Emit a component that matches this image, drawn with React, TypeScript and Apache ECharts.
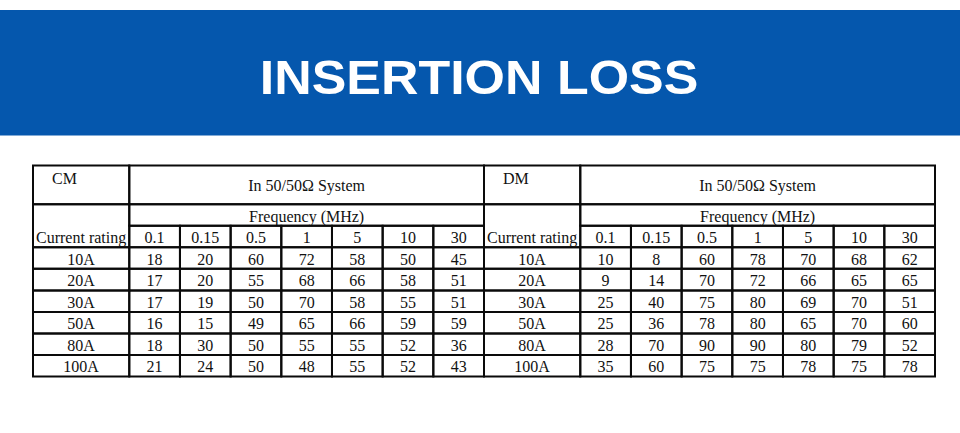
import React, { useEffect, useRef } from "react";
import * as echarts from "echarts";

const title = "INSERTION LOSS";
const systemLabel = "In 50/50Ω System";
const frequencyLabel = "Frequency (MHz)";
const ratingLabel = "Current rating";
const frequencies = ["0.1", "0.15", "0.5", "1", "5", "10", "30"];
const ratings = ["10A", "20A", "30A", "50A", "80A", "100A"];
const cmValues = [
  [18, 20, 60, 72, 58, 50, 45],
  [17, 20, 55, 68, 66, 58, 51],
  [17, 19, 50, 70, 58, 55, 51],
  [16, 15, 49, 65, 66, 59, 59],
  [18, 30, 50, 55, 55, 52, 36],
  [21, 24, 50, 48, 55, 52, 43],
];
const dmValues = [
  [10, 8, 60, 78, 70, 68, 62],
  [9, 14, 70, 72, 66, 65, 65],
  [25, 40, 75, 80, 69, 70, 51],
  [25, 36, 78, 80, 65, 70, 60],
  [28, 70, 90, 90, 80, 79, 52],
  [35, 60, 75, 75, 78, 75, 78],
];

// table layout in axis units (first column is wider than value columns)
const LABEL_W = 1.9;
const TITLE_H = 1.8;
const X_MAX = LABEL_W + frequencies.length;
const Y_MAX = TITLE_H + 2 + ratings.length;

type Cell = {
  x0: number; x1: number; y0: number; y1: number;
  text: string; kind?: "tag"; ty0?: number; ty1?: number;
};

function buildCells(tag: string, values: number[][]): Cell[] {
  const cells: Cell[] = [];
  cells.push({ x0: 0, x1: LABEL_W, y0: 0, y1: TITLE_H, text: tag, kind: "tag" });
  cells.push({ x0: LABEL_W, x1: X_MAX, y0: 0, y1: TITLE_H, text: systemLabel });
  cells.push({ x0: 0, x1: LABEL_W, y0: TITLE_H, y1: TITLE_H + 2, text: ratingLabel, ty0: TITLE_H + 1, ty1: TITLE_H + 2 });
  cells.push({ x0: LABEL_W, x1: X_MAX, y0: TITLE_H, y1: TITLE_H + 1, text: frequencyLabel });
  frequencies.forEach((f, i) => {
    cells.push({ x0: LABEL_W + i, x1: LABEL_W + i + 1, y0: TITLE_H + 1, y1: TITLE_H + 2, text: f });
  });
  ratings.forEach((r, ri) => {
    const y0 = TITLE_H + 2 + ri;
    cells.push({ x0: 0, x1: LABEL_W, y0, y1: y0 + 1, text: r });
    values[ri].forEach((v, ci) => {
      cells.push({ x0: LABEL_W + ci, x1: LABEL_W + ci + 1, y0, y1: y0 + 1, text: String(v) });
    });
  });
  return cells;
}

const FONT = '16px "Liberation Serif", "Times New Roman", serif';

function makeSeries(cells: Cell[], gridIndex: number) {
  return {
    type: "custom",
    xAxisIndex: gridIndex,
    yAxisIndex: gridIndex,
    clip: false,
    silent: true,
    encode: { x: [0, 1], y: [2, 3] },
    data: cells.map((c) => [c.x0, c.x1, c.y0, c.y1]),
    renderItem: (params: any, api: any) => {
      const c = cells[params.dataIndex];
      const p0 = api.coord([c.x0, c.y0]);
      const p1 = api.coord([c.x1, c.y1]);
      const left = Math.min(p0[0], p1[0]);
      const top = Math.min(p0[1], p1[1]);
      const w = Math.abs(p1[0] - p0[0]);
      const h = Math.abs(p1[1] - p0[1]);
      let tx = left + w / 2;
      let ty = top + h / 2 + 1;
      let align = "center";
      if (c.kind === "tag") {
        tx = left + 19;
        ty = top + 13;
        align = "left";
      } else if (c.ty0 !== undefined && c.ty1 !== undefined) {
        const q0 = api.coord([c.x0, c.ty0]);
        const q1 = api.coord([c.x0, c.ty1]);
        ty = (q0[1] + q1[1]) / 2 + 1;
      }
      return {
        type: "group",
        children: [
          {
            type: "rect",
            shape: { x: left, y: top, width: w, height: h },
            style: { fill: "none", stroke: "#0a0a0a", lineWidth: 2 },
          },
          {
            type: "text",
            x: tx,
            y: ty,
            style: {
              text: c.text,
              fill: "#111",
              font: FONT,
              textAlign: align,
              textVerticalAlign: "middle",
            },
          },
        ],
      };
    },
  };
}

export default function App() {
  const ref = useRef<HTMLDivElement>(null);
  useEffect(() => {
    if (!ref.current) return;
    const chart = echarts.init(ref.current, undefined, { renderer: "svg" });
    const cmCells = buildCells("CM", cmValues);
    const dmCells = buildCells("DM", dmValues);
    const axisX = (gridIndex: number) => ({
      type: "value", gridIndex, min: 0, max: X_MAX, show: false,
    });
    const axisY = (gridIndex: number) => ({
      type: "value", gridIndex, min: 0, max: Y_MAX, inverse: true, show: false,
    });
    chart.setOption({
      animation: false,
      backgroundColor: "#ffffff",
      grid: [
        { left: 33, top: 165.5, width: 451, height: 211 },
        { left: 484, top: 165.5, width: 451, height: 211 },
      ],
      xAxis: [axisX(0), axisX(1)],
      yAxis: [axisY(0), axisY(1)],
      graphic: [
        {
          type: "rect",
          shape: { x: 0, y: 10, width: 960, height: 125.5 },
          style: { fill: "#0557AD" },
          silent: true,
        },
        {
          type: "text",
          x: 479,
          y: 77,
          scaleX: 1.06,
          style: {
            text: title,
            fill: "#ffffff",
            font: 'bold 49px "Liberation Sans", Arial, sans-serif',
            textAlign: "center",
            textVerticalAlign: "middle",
          },
          silent: true,
        },
      ],
      series: [makeSeries(cmCells, 0), makeSeries(dmCells, 1)],
    });
    return () => chart.dispose();
  }, []);
  return (
    <div
      ref={ref}
      style={{ position: "absolute", left: 0, top: 0, width: 960, height: 433 }}
    />
  );
}
